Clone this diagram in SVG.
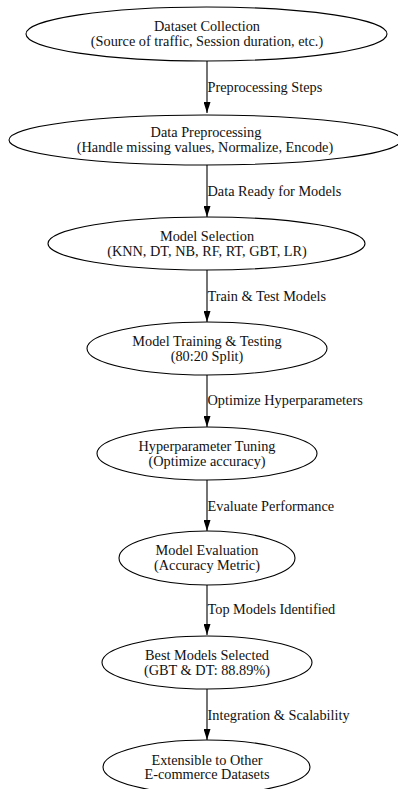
<svg xmlns="http://www.w3.org/2000/svg" width="398" height="789" viewBox="0 0 398 789">
<defs>
<marker id="arr" markerUnits="userSpaceOnUse" markerWidth="11" markerHeight="7" refX="11" refY="3.5" orient="auto" viewBox="0 0 11 7">
<path d="M0,0 L11,3.5 L0,7 Z" fill="#000"/>
</marker>
<style>
.n ellipse{fill:#fff;stroke:#000;stroke-width:1.1}
.n text{font-family:"Liberation Serif","Times New Roman",serif;font-size:14.3px;text-anchor:middle;fill:#111}
.e line{stroke:#000;stroke-width:1.1;marker-end:url(#arr)}
.e text{font-family:"Liberation Serif","Times New Roman",serif;font-size:14.3px;fill:#111}
</style>
</defs>
<rect width="398" height="789" fill="#fff"/>
<g class="e" id="edges">
<line x1="207" y1="61" x2="207" y2="113"/>
<text x="207.5" y="91.5">Preprocessing Steps</text>
<line x1="207" y1="165" x2="207" y2="217"/>
<text x="207.5" y="195.5">Data Ready for Models</text>
<line x1="207" y1="270" x2="207" y2="322"/>
<text x="207.5" y="300.5">Train &amp; Test Models</text>
<line x1="207" y1="375" x2="207" y2="427"/>
<text x="207.5" y="405">Optimize Hyperparameters</text>
<line x1="207" y1="480" x2="207" y2="531"/>
<text x="207.5" y="510.5">Evaluate Performance</text>
<line x1="207" y1="585" x2="207" y2="635"/>
<text x="207.5" y="614">Top Models Identified</text>
<line x1="207" y1="689" x2="207" y2="740"/>
<text x="207.5" y="719.5">Integration &amp; Scalability</text>
</g>
<g class="n" id="n1">
<ellipse cx="206.5" cy="34" rx="180.5" ry="27"/>
<text x="207" y="31">Dataset Collection</text>
<text x="207" y="46">(Source of traffic, Session duration, etc.)</text>
</g>
<g class="n" id="n2">
<ellipse cx="205" cy="140" rx="196" ry="25"/>
<text x="206" y="136.5">Data Preprocessing</text>
<text x="205" y="151.5">(Handle missing values, Normalize, Encode)</text>
</g>
<g class="n" id="n3">
<ellipse cx="206.5" cy="243.5" rx="158.5" ry="26.5"/>
<text x="207" y="240.5">Model Selection</text>
<text x="207" y="255.5">(KNN, DT, NB, RF, RT, GBT, LR)</text>
</g>
<g class="n" id="n4">
<ellipse cx="207" cy="348.5" rx="120" ry="26.5"/>
<text x="207" y="345.5">Model Training &amp; Testing</text>
<text x="207" y="360.5">(80:20 Split)</text>
</g>
<g class="n" id="n5">
<ellipse cx="207" cy="453.5" rx="110" ry="26.5"/>
<text x="207" y="450.5">Hyperparameter Tuning</text>
<text x="207" y="465.5">(Optimize accuracy)</text>
</g>
<g class="n" id="n6">
<ellipse cx="207" cy="558" rx="88" ry="27"/>
<text x="207" y="555">Model Evaluation</text>
<text x="207" y="570">(Accuracy Metric)</text>
</g>
<g class="n" id="n7">
<ellipse cx="207" cy="662.5" rx="105" ry="26.5"/>
<text x="207" y="659.5">Best Models Selected</text>
<text x="207" y="674.5">(GBT &amp; DT: 88.89%)</text>
</g>
<g class="n" id="n8">
<ellipse cx="206.5" cy="767" rx="103.5" ry="27"/>
<text x="207" y="764.5">Extensible to Other</text>
<text x="207" y="779">E-commerce Datasets</text>
</g>
</svg>
